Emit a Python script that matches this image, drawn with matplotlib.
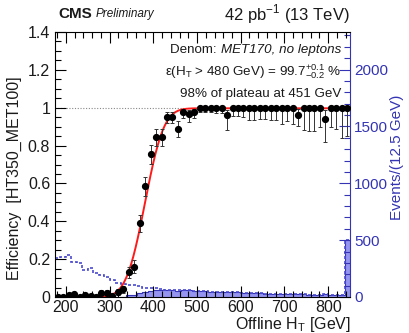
import numpy as np
import matplotlib
matplotlib.use("Agg")
import matplotlib.pyplot as plt
from matplotlib.ticker import MultipleLocator, FuncFormatter
from math import erf

plt.rcParams['font.family'] = ['Liberation Sans', 'DejaVu Sans']

# ---------------- data ----------------
bin_lo, bin_hi, bin_w = 175.0, 850.0, 12.5
eff = [0, 0, 0.01, 0.015, 0, 0.01, 0.005, 0, 0.02, 0.02,
       0.005, 0.025, 0.04, 0.13, 0.16, 0.39, 0.585, 0.755, 0.845, 0.845,
       0.95, 0.95, 0.89, 0.975, 0.965, 0.975, 1, 1, 1, 1,
       1, 0.96, 1, 1, 1, 1, 1, 1, 1, 1,
       1, 1, 1, 1, 0.963, 1, 1, 1, 1, 0.94,
       1, 1, 1, 1]
err_lo = [0, 0, 0.008, 0.01, 0, 0.008, 0.005, 0, 0.012, 0.012,
          0.005, 0.013, 0.017, 0.03, 0.035, 0.045, 0.05, 0.05, 0.048, 0.048,
          0.032, 0.032, 0.045, 0.03, 0.04, 0.03, 0.02, 0.025, 0.025, 0.03,
          0.03, 0.08, 0.045, 0.045, 0.05, 0.065, 0.065, 0.06, 0.06, 0.065,
          0.065, 0.085, 0.07, 0.085, 0.06, 0.12, 0.125, 0.125, 0.1, 0.12,
          0.1, 0.11, 0.16, 0.15]
err_hi = [0.01, 0.01, 0.012, 0.013, 0.01, 0.012, 0.01, 0.01, 0.015, 0.015,
          0.01, 0.016, 0.02, 0.03, 0.035, 0.045, 0.05, 0.05, 0.045, 0.045,
          0.025, 0.025, 0.04, 0.02, 0.025, 0.02, 0, 0, 0, 0,
          0, 0.03, 0, 0, 0, 0, 0, 0, 0, 0,
          0, 0, 0, 0, 0.03, 0, 0, 0, 0, 0.05,
          0, 0, 0, 0]
denom = [345, 355, 368, 304, 295, 240, 252, 215, 193, 180,
         150, 122, 111, 108, 105, 95, 80, 76, 75, 73,
         65, 63, 64, 61, 60, 56, 50, 50, 47, 45,
         42, 42, 44, 40, 38, 35, 35, 33, 30, 30,
         28, 26, 26, 25, 25, 22, 20, 20, 18, 23,
         16, 15, 14, 505]
numer = [0, 0, 4, 5, 0, 3, 1, 0, 4, 4,
         1, 3, 4, 14, 17, 37, 47, 57, 63, 62,
         62, 60, 57, 60, 58, 55, 50, 50, 47, 45,
         42, 40, 44, 40, 38, 35, 35, 33, 30, 30,
         28, 26, 26, 25, 24, 22, 20, 20, 18, 22,
         16, 15, 14, 500]
# erf fit parameters
fit_plateau, fit_mu, fit_sigma = 0.997, 381.0, 48.0

edges = np.arange(bin_lo, bin_hi + 0.1, bin_w)
centers = 0.5 * (edges[:-1] + edges[1:])

BLUE = '#3434b4'
FILL = '#8a8af0'
TXT = '#1a1a1a'

fig = plt.figure(figsize=(4.10, 3.33), dpi=100)
ax = fig.add_axes([55/410, 1 - 297/333, 295/410, 265/333])
ax2 = ax.twinx()
ax.set_zorder(ax2.get_zorder() + 1)
ax.patch.set_visible(False)

# histograms (right axis)
ax2.stairs(numer, edges, fill=True, color=FILL, alpha=0.9, lw=0)
ax2.stairs(numer, edges, color=BLUE, lw=0.8, baseline=None)
ax2.stairs(denom, edges, color='#4a4ad0', lw=1.2, linestyle=(0, (1.8, 1.2)), baseline=None)
ax2.set_ylim(0, 2330)
ax2.set_xlim(bin_lo, bin_hi)
ax2.yaxis.set_major_locator(MultipleLocator(500))
ax2.yaxis.set_minor_locator(MultipleLocator(100))
ax2.tick_params(axis='y', which='both', direction='in', colors=BLUE, labelsize=11, pad=3)
ax2.tick_params(axis='y', which='major', length=8, width=0.8)
ax2.tick_params(axis='y', which='minor', length=4, width=0.8)
for s in ['left', 'top', 'bottom']:
    ax2.spines[s].set_visible(False)
ax2.spines['right'].set_color(BLUE)
ax2.spines['right'].set_linewidth(0.8)

# efficiency
ax.axhline(1.0, color='#888888', lw=0.8, ls=(0, (1, 1.5)), zorder=1)
xf = np.linspace(bin_lo, bin_hi, 400)
yf = np.array([fit_plateau * 0.5 * (1 + erf((v - fit_mu) / fit_sigma)) for v in xf])
ax.plot(xf, yf, color='#ff1a1a', lw=1.4, zorder=2)
ax.errorbar(centers, eff, yerr=[err_lo, err_hi], fmt='o', color='black',
            ms=4.2, elinewidth=0.7, ecolor='#333333', capsize=1.5, capthick=0.7, zorder=3)

ax.set_xlim(bin_lo, bin_hi)
ax.set_ylim(0, 1.4)
ax.xaxis.set_major_locator(MultipleLocator(100))
ax.xaxis.set_minor_locator(MultipleLocator(20))
ax.yaxis.set_major_locator(MultipleLocator(0.2))
ax.yaxis.set_minor_locator(MultipleLocator(0.05))
ax.yaxis.set_major_formatter(FuncFormatter(lambda v, p: '%g' % round(v, 2)))
ax.tick_params(which='both', direction='in', top=True, right=False, labelsize=11.5,
               width=0.8, labelcolor=TXT)
ax.tick_params(which='major', length=8)
ax.tick_params(which='minor', length=4)
ax.tick_params(axis='x', pad=2)
ax.spines['right'].set_visible(False)
for s in ['left', 'top', 'bottom']:
    ax.spines[s].set_linewidth(0.8)

# labels
fig.text(14/410, 1 - 178/333, 'Efficiency  [HT350_MET100]', rotation=90,
         ha='center', va='center', fontsize=11.5, color=TXT)
fig.text(397/410, 1 - 157/333, 'Events/(12.5 GeV)', rotation=90, color=BLUE,
         ha='center', va='center', fontsize=11)
fig.text(351/410, 1 - 324/333, 'Offline H$_{\\mathregular{T}}$ [GeV]',
         ha='right', va='center', fontsize=11.5, color=TXT)
fig.text(58/410, 1 - 14/333, 'CMS', fontweight='bold', ha='left', va='center', fontsize=11, color=TXT)
fig.text(96/410, 1 - 14/333, 'Preliminary', style='italic', ha='left', va='center', fontsize=8.5, color=TXT)
fig.text(350/410, 1 - 14/333, '42 pb$^{\\mathregular{-1}}$ (13 TeV)', ha='right', va='center',
         fontsize=12, color=TXT)

FS = 9.6
t1 = fig.text(341/410, 1 - 50/333, 'MET170, no leptons', style='italic',
              ha='right', va='center', fontsize=FS, color=TXT)
fig.canvas.draw()
bb = t1.get_window_extent()
fig.text(bb.x0 / fig.bbox.width, 1 - 50/333, 'Denom: ', ha='right', va='center', fontsize=FS, color=TXT)
fig.text(341/410, 1 - 72/333,
         '$\\mathregular{\\epsilon(H_T}$ > 480 GeV) = 99.7$^{\\mathregular{+0.1}}_{\\mathregular{-0.2}}$ %',
         ha='right', va='center', fontsize=FS, color=TXT)
fig.text(341/410, 1 - 94/333, '98% of plateau at 451 GeV', ha='right', va='center', fontsize=FS, color=TXT)

fig.savefig('out.png', dpi=100)
